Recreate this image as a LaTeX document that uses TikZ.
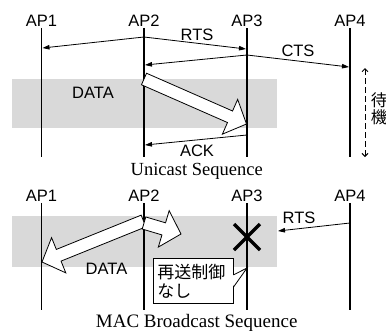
\documentclass[tikz,border=0pt]{standalone}
\usepackage{fontspec}
\setmainfont{Liberation Serif}
\setsansfont{Liberation Sans}
\newfontfamily\jpfont{Noto Sans CJK JP}
\usetikzlibrary{arrows.meta,calc}

\tikzset{
  ap/.style={font=\fontsize{16.5}{19}\sffamily, inner sep=1pt},
  msg/.style={font=\fontsize{16.5}{19}\sffamily, inner sep=0pt},
  life/.style={line width=1.8pt},
  sig/.style={line width=0.8pt, -{Triangle[length=7pt,width=4.5pt]}},
  zone/.style={fill=black!15},
  fat/.style={draw, fill=white, line width=0.8pt, line join=miter},
  waitline/.style={line width=1pt, dash pattern=on 6pt off 3pt,
    {Straight Barb[length=3pt,width=6pt]}-{Straight Barb[length=3pt,width=6pt]}},
  lost/.style={line width=3.5pt},
  note/.style={draw, fill=white, line width=0.8pt, font=\fontsize{17}{19}\jpfont,
    align=left, text width=72pt, inner sep=4pt, minimum height=45pt},
  caption/.style={font=\fontsize{18.5}{21}\selectfont, inner sep=0pt, anchor=base},
}

% fat white arrow from #1 to the tip #2
\newcommand{\bigarrow}[2]{%
  \coordinate (hb) at ($(#2)!18pt!(#1)$);
  \draw[fat] ($(#1)!6.3pt!90:(#2)$) -- ($(hb)!6.3pt!-90:(#1)$) -- ($(hb)!19pt!-90:(#1)$)
    -- (#2) -- ($(hb)!19pt!90:(#1)$) -- ($(hb)!6.3pt!90:(#1)$) -- ($(#1)!6.3pt!-90:(#2)$) -- cycle;
}

\begin{document}
\begin{tikzpicture}[x=1pt, y=-1pt]
\useasboundingbox (0,0) rectangle (386,330);

% unicast
\fill[zone] (12,79) rectangle (277,128);

\node[ap] (u1) at (41.5,21) {AP1};
\node[ap] (u2) at (144,21) {AP2};
\node[ap] (u3) at (247,21) {AP3};
\node[ap] (u4) at (350,21) {AP4};

\coordinate (ub1) at (41.5,157);
\coordinate (ub2) at (144,157);
\coordinate (ub3) at (247,157);
\coordinate (ub4) at (350,157);

\draw[life] (u1) -- (ub1);
\draw[life] (u2) -- (ub2);
\draw[life] (u3) -- (ub3);
\draw[life] (u4) -- (ub4);

\coordinate (rts0) at (144,37);
\coordinate (rts1) at (42.5,48);
\coordinate (rts3) at (246,49);
\coordinate (cts0) at (247,55);
\coordinate (cts2) at (145,65);
\coordinate (cts4) at (349,67);
\coordinate (ack0) at (247,135);
\coordinate (ack2) at (145,145);

\draw[sig] (rts0) -- (rts1);
\draw[sig] (rts0) -- (rts3);
\draw[sig] (cts0) -- (cts2);
\draw[sig] (cts0) -- (cts4);
\draw[sig] (ack0) -- (ack2);

\node[msg] (rts) at (197,34.5) {RTS};
\node[msg] (cts) at (298,51) {CTS};
\node[msg] (ack) at (197,151) {ACK};
\node[msg] (data1) at (93,93) {DATA};

\coordinate (d1a) at (144,79);
\coordinate (d1b) at (246.5,124);
\bigarrow{d1a}{d1b}

\coordinate (w1) at (365,68);
\coordinate (w2) at (365,157);
\draw[waitline] (w1) -- (w2);
\node[font=\fontsize{16.5}{17}\jpfont, align=center, inner sep=0pt] (wt) at (379,109) {待\\機};

\node[caption] (uc) at (196.7,175) {Unicast Sequence};

% broadcast
\fill[zone] (12,216) rectangle (277,267);

\node[ap] (b1) at (41.5,196) {AP1};
\node[ap] (b2) at (144,196) {AP2};
\node[ap] (b3) at (247,196) {AP3};
\node[ap] (b4) at (350,196) {AP4};

\coordinate (bb1) at (41.5,310);
\coordinate (bb2) at (144,310);
\coordinate (bb3) at (247,310);
\coordinate (bb4) at (350,310);

\draw[life] (b1) -- (bb1);
\draw[life] (b2) -- (bb2);
\draw[life] (b3) -- (bb3);
\draw[life] (b4) -- (bb4);

\coordinate (d2a) at (143.5,221);
\coordinate (d2b) at (42,262);
\coordinate (d3a) at (144,223);
\coordinate (d3b) at (181,234);
\bigarrow{d2a}{d2b}
\bigarrow{d3a}{d3b}

\node[msg] (data2) at (106.5,269) {DATA};

\coordinate (x0) at (247,237);
\draw[lost] ($(x0)+(-13,-13)$) -- ($(x0)+(13,13)$);
\draw[lost] ($(x0)+(-13,13)$) -- ($(x0)+(13,-13)$);

\coordinate (brts0) at (350,223);
\coordinate (brts3) at (278,231);
\draw[sig] (brts0) -- (brts3);
\node[msg] (brts) at (299,218) {RTS};

\node[note] (nb) at (193.3,280.8) {再送制御\\なし};
\coordinate (tip) at (247,268);
\fill[white] ($(nb.east)+(-0.6,-5.4)$) -- (tip) -- ($(nb.east)+(-0.6,5.4)$) -- cycle;
\draw[line width=0.8pt] ($(nb.east)+(0,-6)$) -- (tip) -- ($(nb.east)+(0,6)$);

\node[caption, font=\fontsize{19}{22}\selectfont] (mc) at (196.7,327) {MAC Broadcast Sequence};
\end{tikzpicture}
\end{document}
